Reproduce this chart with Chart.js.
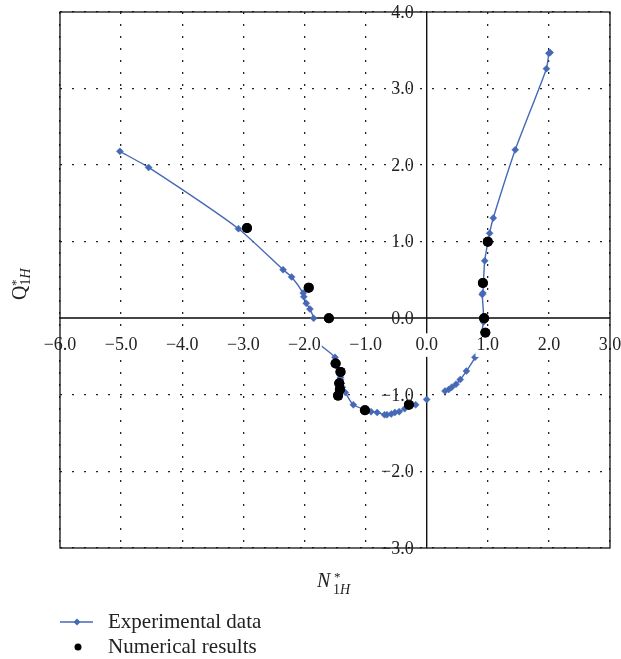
<!DOCTYPE html>
<html>
<head>
<meta charset="utf-8">
<script src="https://cdn.jsdelivr.net/npm/chart.js@4/dist/chart.umd.min.js"></script>
<style>
  body { margin: 0; background: #fff; }
</style>
</head>
<body>
<canvas id="chart" width="621" height="659"></canvas>
<script>
// experimental curve (N*1H, Q*1H), in measured order
const expN = [-5.02, -4.55, -3.08, -2.35, -2.21, -2.02, -2.01, -1.97, -1.91, -1.85,
  -1.86, -1.50, -1.41, -1.41, -1.40, -1.38, -1.33, -1.20, -0.91, -0.81,
  -0.69, -0.65, -0.58, -0.52, -0.45, -0.36, -0.18, 0.00, 0.30, 0.36,
  0.41, 0.48, 0.55, 0.65, 0.79, 0.93, 0.91, 0.92, 0.95, 1.03,
  1.09, 1.45, 1.96, 2.00, 2.02];
const expQ = [2.18, 1.97, 1.17, 0.635, 0.54, 0.33, 0.28, 0.195, 0.12, 0.0,
  -0.26, -0.51, -0.77, -0.80, -0.85, -0.90, -0.97, -1.13, -1.22, -1.23,
  -1.26, -1.26, -1.25, -1.23, -1.22, -1.18, -1.13, -1.06, -0.95, -0.93,
  -0.90, -0.86, -0.80, -0.69, -0.51, -0.05, 0.31, 0.33, 0.75, 1.11,
  1.31, 2.20, 3.26, 3.46, 3.47];
// the measured curve is broken after these points
const expBreaks = [9, 26, 27];

// numerical results
const numN = [-2.94, -1.93, -1.60, -1.49, -1.41, -1.43, -1.42, -1.45, -1.01, -0.29, 0.94, 0.96, 0.92, 1.00];
const numQ = [1.18, 0.40, 0.0, -0.59, -0.70, -0.85, -0.93, -1.01, -1.20, -1.13, 0.0, -0.19, 0.46, 1.00];

const xTickLabels = ['−6.0', '−5.0', '−4.0', '−3.0', '−2.0', '−1.0', '0.0', '1.0', '2.0', '3.0'];
const yTickLabels = ['−3.0', '−2.0', '−1.0', '0.0', '1.0', '2.0', '3.0', '4.0'];
const seriesNames = ['Experimental data', 'Numerical results'];

const BLUE = '#4569b6';
const SERIF = '"Liberation Serif", "Times New Roman", serif';

function toPoints(xs, ys) {
  return xs.map((x, i) => ({ x: x, y: ys[i] }));
}

function zeroPadding(scale) {
  scale.paddingLeft = 0;
  scale.paddingRight = 0;
  scale.paddingTop = 0;
  scale.paddingBottom = 0;
}

// frame, y labels, redraw of the black dots, axis titles and legend
const extras = {
  id: 'extras',
  afterDraw(chart) {
    const ctx = chart.ctx;
    const a = chart.chartArea;
    const xs = chart.scales.x;
    const ys = chart.scales.y;

    // numerical points on top of the tick labels
    chart.getDatasetMeta(1).controller.draw();

    ctx.save();
    ctx.strokeStyle = '#111';
    ctx.lineWidth = 1.3;
    ctx.strokeRect(a.left, a.top, a.right - a.left, a.bottom - a.top);

    // y tick labels, left of the vertical axis line
    ctx.fillStyle = '#222';
    ctx.font = '18px ' + SERIF;
    ctx.textAlign = 'right';
    ctx.textBaseline = 'middle';
    const x0 = xs.getPixelForValue(0);
    ys.ticks.forEach((t, i) => {
      ctx.fillText(yTickLabels[i], x0 - 13, ys.getPixelForValue(t.value) + 1);
    });

    ctx.textBaseline = 'alphabetic';
    ctx.textAlign = 'left';

    // x title: N*1H
    ctx.font = 'italic 20px ' + SERIF;
    ctx.fillText('N', 317, 587);
    ctx.font = '13px ' + SERIF;
    ctx.fillText('*', 334, 581);
    ctx.font = '14px ' + SERIF;
    ctx.fillText('1', 333, 594);
    ctx.font = 'italic 14px ' + SERIF;
    ctx.fillText('H', 340, 594);

    // y title: Q*1H, rotated
    ctx.save();
    ctx.translate(26, 300);
    ctx.rotate(-Math.PI / 2);
    ctx.font = '20px ' + SERIF;
    ctx.fillText('Q', 0, 0);
    ctx.font = '13px ' + SERIF;
    ctx.fillText('*', 14, -6);
    ctx.font = '14px ' + SERIF;
    ctx.fillText('1', 14.5, 4);
    ctx.font = 'italic 14px ' + SERIF;
    ctx.fillText('H', 21.5, 4);
    ctx.restore();

    // legend
    ctx.strokeStyle = BLUE;
    ctx.lineWidth = 1.5;
    ctx.beginPath();
    ctx.moveTo(60, 622);
    ctx.lineTo(93, 622);
    ctx.stroke();
    ctx.fillStyle = BLUE;
    ctx.beginPath();
    ctx.moveTo(77, 618.5);
    ctx.lineTo(80.5, 622);
    ctx.lineTo(77, 625.5);
    ctx.lineTo(73.5, 622);
    ctx.closePath();
    ctx.fill();
    ctx.fillStyle = '#000';
    ctx.beginPath();
    ctx.arc(78, 647, 3.5, 0, Math.PI * 2);
    ctx.fill();

    ctx.fillStyle = '#222';
    ctx.font = '21px ' + SERIF;
    ctx.textBaseline = 'middle';
    ctx.fillText(seriesNames[0], 108, 622);
    ctx.fillText(seriesNames[1], 108, 647);
    ctx.restore();
  }
};

const gridColor = (c) => (c.tick && (c.tick.value === 0)) ? 'rgba(0,0,0,0)' : '#222';

new Chart(document.getElementById('chart'), {
  type: 'scatter',
  data: {
    datasets: [{
      label: seriesNames[0],
      data: toPoints(expN, expQ),
      showLine: true,
      borderColor: BLUE,
      borderWidth: 1.4,
      tension: 0.2,
      segment: {
        borderColor: (c) => expBreaks.includes(c.p0DataIndex) ? 'rgba(0,0,0,0)' : BLUE
      },
      backgroundColor: BLUE,
      pointBackgroundColor: BLUE,
      pointBorderColor: BLUE,
      pointStyle: 'rectRot',
      pointRadius: 3.5,
      pointBorderWidth: 0.5,
      order: 2
    }, {
      label: seriesNames[1],
      data: toPoints(numN, numQ),
      showLine: false,
      backgroundColor: '#000',
      pointBackgroundColor: '#000',
      pointBorderColor: '#000',
      pointRadius: 5,
      pointBorderWidth: 0,
      order: 1
    }]
  },
  options: {
    responsive: false,
    animation: false,
    layout: { padding: { left: 60, right: 11, top: 12, bottom: 111 } },
    plugins: {
      legend: { display: false },
      tooltip: { enabled: false }
    },
    scales: {
      x: {
        type: 'linear',
        min: -6,
        max: 3,
        position: { y: 0 },
        afterFit: zeroPadding,
        border: { display: true, color: '#444', width: 2, dash: [2, 10] },
        grid: { color: gridColor, lineWidth: 1.3, drawTicks: false },
        ticks: {
          stepSize: 1,
          padding: 16,
          z: 1,
          maxRotation: 0,
          autoSkip: false,
          color: '#222',
          font: { family: SERIF, size: 18 },
          showLabelBackdrop: true,
          backdropColor: '#fff',
          backdropPadding: 1,
          callback: (v, i) => xTickLabels[i]
        }
      },
      y: {
        type: 'linear',
        min: -3,
        max: 4,
        position: { x: 0 },
        afterFit: zeroPadding,
        border: { display: true, color: '#111', width: 1.4, dash: [2, 10] },
        grid: { color: gridColor, lineWidth: 1.3, drawTicks: false },
        ticks: {
          stepSize: 1,
          display: false
        }
      }
    }
  },
  plugins: [extras]
});
</script>
</body>
</html>
